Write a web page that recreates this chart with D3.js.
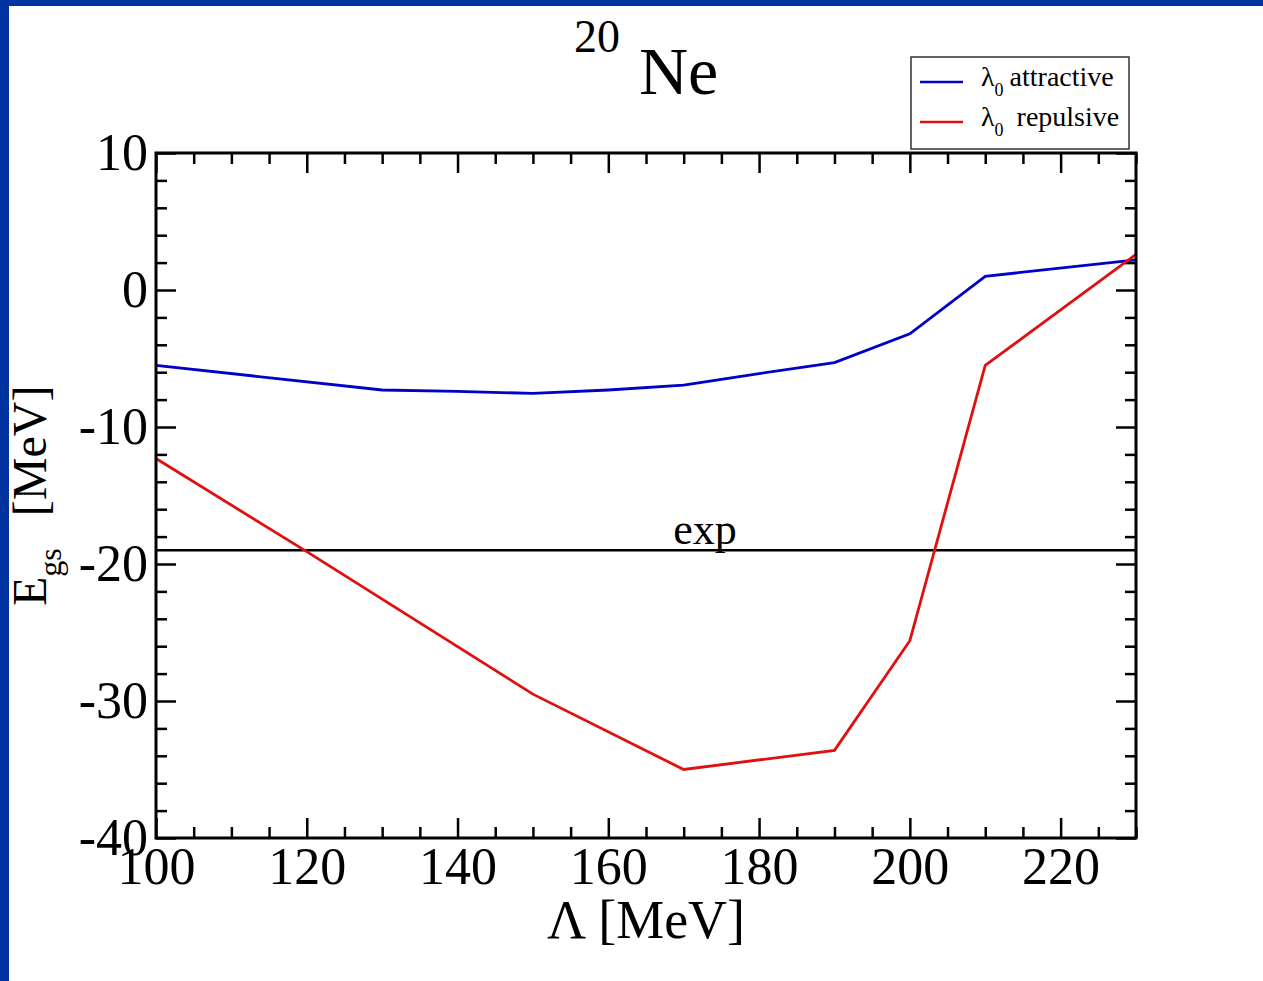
<!DOCTYPE html>
<html lang="en">
<head>
<meta charset="utf-8">
<title>20Ne ground state energy</title>
<script src="https://d3js.org/d3.v7.min.js"></script>
<style>
    body{margin:0;background:#fff;}
    svg{display:block;}
    .axis path{display:none;}
    .axis line{stroke:#000;stroke-width:2.5px;}
    .axis text{font-family:"Liberation Serif",serif;font-size:52px;fill:#000;}
</style>
</head>
<body>
<div id="chart1"></div>
<script>
// cutoff Lambda [MeV] and ground state energies [MeV]
var lambdaAttr = [100, 130, 140, 150, 160, 170, 180, 190, 200, 210, 230]
var egsAttr    = [-5.5, -7.3, -7.4, -7.55, -7.3, -6.95, -6.1, -5.3, -3.2, 1.0, 2.2]
var lambdaRep  = [100, 120, 150, 170, 190, 200, 210, 230]
var egsRep     = [-12.3, -19.1, -29.5, -35.0, -33.6, -25.6, -5.5, 2.6]
var expValue   = -19.0
var xTicks = [100, 120, 140, 160, 180, 200, 220]
var yTicks = [-40, -30, -20, -10, 0, 10]
var xDomain = [100, 230]
var yDomain = [-40, 10]

var W = 1263, H = 981
// plot frame (pixels)
var pLeft = 156, pRight = 1136, pTop = 153, pBottom = 838
var serif = "Liberation Serif, serif"

var svg = d3.select("#chart1").append("svg")
    .attr("width", W).attr("height", H)

svg.append("rect").attr("width", W).attr("height", H).attr("fill", "#fff")
// blue slide border on the left and top
svg.append("rect").attr("x", 0).attr("y", 0).attr("width", 9).attr("height", H).attr("fill", "#0033a0")
svg.append("rect").attr("x", 0).attr("y", 0).attr("width", W).attr("height", 6).attr("fill", "#0033a0")

var xScale = d3.scaleLinear().domain(xDomain).range([pLeft, pRight])
var yScale = d3.scaleLinear().domain(yDomain).range([pBottom, pTop])

var xMinor = d3.range(100, 231, 5).filter(function(v){ return v % 20 != 0 })
var yMinor = d3.range(-40, 11, 2).filter(function(v){ return v % 10 != 0 })

// minor ticks, all four sides, inward
function minor(axis, scale, vals, tr){
    svg.append("g").attr("class", "axis").attr("transform", tr)
        .call(axis(scale).tickValues(vals).tickSizeInner(-11).tickSizeOuter(0).tickFormat(""))
}
minor(d3.axisBottom, xScale, xMinor, "translate(0," + pBottom + ")")
minor(d3.axisTop, xScale, xMinor, "translate(0," + pTop + ")")
minor(d3.axisLeft, yScale, yMinor, "translate(" + pLeft + ",0)")
minor(d3.axisRight, yScale, yMinor, "translate(" + pRight + ",0)")

// major ticks (plain hyphen for negatives, like the original)
var plain = function(d){ return String(d) }
svg.append("g").attr("class", "axis").attr("transform", "translate(0," + pBottom + ")")
    .call(d3.axisBottom(xScale).tickValues(xTicks).tickSizeInner(-20).tickSizeOuter(0).tickPadding(9).tickFormat(plain))
svg.append("g").attr("class", "axis").attr("transform", "translate(0," + pTop + ")")
    .call(d3.axisTop(xScale).tickValues(xTicks).tickSizeInner(-20).tickSizeOuter(0).tickFormat(""))
svg.append("g").attr("class", "axis").attr("transform", "translate(" + pLeft + ",0)")
    .call(d3.axisLeft(yScale).tickValues(yTicks).tickSizeInner(-20).tickSizeOuter(0).tickPadding(8).tickFormat(plain))
svg.append("g").attr("class", "axis").attr("transform", "translate(" + pRight + ",0)")
    .call(d3.axisRight(yScale).tickValues(yTicks).tickSizeInner(-20).tickSizeOuter(0).tickFormat(""))

// experimental value
svg.append("line")
    .attr("x1", xScale(xDomain[0])).attr("x2", xScale(xDomain[1]))
    .attr("y1", yScale(expValue)).attr("y2", yScale(expValue))
    .attr("stroke", "#000").attr("stroke-width", 2.5)
svg.append("text")
    .attr("x", 705).attr("y", yScale(expValue) - 6)
    .attr("text-anchor", "middle")
    .style("font-family", serif).style("font-size", "44px")
    .text("exp")

var line = d3.line()
    .x(function(d){ return xScale(d[0]) })
    .y(function(d){ return yScale(d[1]) })

var attrData = lambdaAttr.map(function(v, i){ return [v, egsAttr[i]] })
var repData = lambdaRep.map(function(v, i){ return [v, egsRep[i]] })

svg.append("path").datum(attrData)
    .attr("d", line).attr("fill", "none")
    .attr("stroke", "#0000c8").attr("stroke-width", 2.8)
svg.append("path").datum(repData)
    .attr("d", line).attr("fill", "none")
    .attr("stroke", "#e01010").attr("stroke-width", 2.8)

// frame
svg.append("rect")
    .attr("x", pLeft).attr("y", pTop)
    .attr("width", pRight - pLeft).attr("height", pBottom - pTop)
    .attr("fill", "none").attr("stroke", "#000").attr("stroke-width", 3)

// title
var title = svg.append("text")
    .style("font-family", serif)
title.append("tspan").attr("x", 574).attr("y", 52).style("font-size", "46px").text("20")
title.append("tspan").attr("x", 639).attr("y", 94).style("font-size", "68px").text("Ne")

// axis titles
svg.append("text")
    .attr("x", (pLeft + pRight) / 2).attr("y", 938)
    .attr("text-anchor", "middle")
    .style("font-family", serif).style("font-size", "54px")
    .text("Λ [MeV]")

var ylab = svg.append("text")
    .attr("transform", "translate(46,606) rotate(-90)")
    .attr("text-anchor", "start")
    .style("font-family", serif).style("font-size", "48px")
ylab.append("tspan").text("E")
ylab.append("tspan").attr("dy", 15).style("font-size", "32px").text("gs")
ylab.append("tspan").attr("dy", -15).attr("dx", 32).text("[MeV]")

// legend
var legend = svg.append("g")
legend.append("rect")
    .attr("x", 911).attr("y", 57).attr("width", 218).attr("height", 92)
    .attr("fill", "#fff").attr("stroke", "#333").attr("stroke-width", 1.5)
var items = [["attractive", "#0000c8", 82, 0], ["repulsive", "#e01010", 122, 7]]
items.forEach(function(it){
    legend.append("line")
        .attr("x1", 920).attr("x2", 963).attr("y1", it[2]).attr("y2", it[2])
        .attr("stroke", it[1]).attr("stroke-width", 2.5)
    var t = legend.append("text")
        .attr("x", 981).attr("y", it[2] + 4)
        .style("font-family", serif).style("font-size", "28px")
    t.append("tspan").text("λ")
    t.append("tspan").attr("dy", 10).style("font-size", "18px").text("0")
    t.append("tspan").attr("dy", -10).attr("dx", 6 + it[3]).text(it[0])
})
</script>
</body>
</html>
